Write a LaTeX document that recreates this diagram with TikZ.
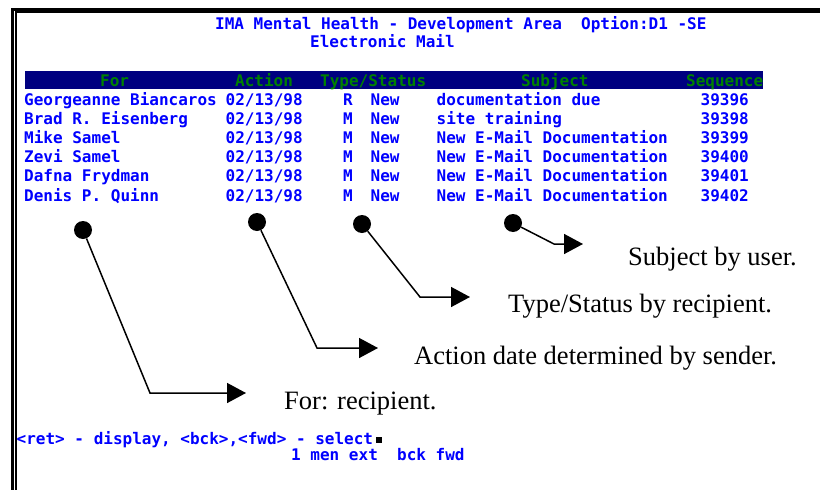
\documentclass[tikz,border=0pt]{standalone}
\usepackage{fontspec}
\setmainfont{Liberation Serif}
\newfontfamily\scrfont{DejaVu Sans Mono}
\usetikzlibrary{arrows.meta}
\definecolor{scrblue}{RGB}{0,0,255}
\definecolor{barnavy}{RGB}{0,0,128}
\definecolor{bargreen}{RGB}{0,128,0}

\begin{document}
\begin{tikzpicture}[x=1pt,y=-1pt,
  scr/.style={inner sep=0pt, anchor=base west, text=scrblue,
    font=\scrfont\bfseries\fontsize{16}{16}\selectfont},
  colhead/.style={scr, text=bargreen},
  callout/.style={inner sep=0pt, anchor=base west,
    font=\fontsize{26.5}{26.5}\selectfont},
  pin/.style={circle, fill=black, minimum size=18pt, inner sep=0pt},
  lead/.style={line width=1.5pt, -{Triangle[length=19pt,width=20pt]}}
]
\useasboundingbox (0,0) rectangle (820,490);
\fill[white] (0,0) rectangle (820,490);

% double rule along the top and left edges
\draw[line width=3pt] (820,9) -- (12.5,9) -- (12.5,490);
\draw[line width=1.5pt] (820,12.2) -- (16,12.2) -- (16,490);

% screen title
\node[scr] (title1) at (215,29) {IMA Mental Health - Development Area~~Option:D1 -SE};
\node[scr] (title2) at (310,47.5) {Electronic Mail};

% column header bar
\node[fill=barnavy, anchor=north west, inner sep=0pt,
      minimum width=738pt, minimum height=18.5pt] (bar) at (25,70.5) {};
\node[colhead] (hfor)  at (100,86) {For};
\node[colhead] (hact)  at (235,86) {Action};
\node[colhead] (htype) at (320,86) {Type/Status};
\node[colhead] (hsubj) at (521,86) {Subject};
\node[colhead] (hseq)  at (686,86) {Sequence};

% message list
\foreach \nm/\ty/\sb/\sq [count=\i] in {
    Georgeanne Biancaros/R/documentation due/39396,
    Brad R. Eisenberg/M/site training/39398,
    Mike Samel/M/New E-Mail Documentation/39399,
    Zevi Samel/M/New E-Mail Documentation/39400,
    Dafna Frydman/M/New E-Mail Documentation/39401,
    Denis P. Quinn/M/New E-Mail Documentation/39402} {
  \pgfmathsetmacro{\yy}{105+(\i-1)*19.2}
  \node[scr] (name\i) at (24,\yy)    {\nm};
  \node[scr] (date\i) at (225.5,\yy) {02/13/98};
  \node[scr] (type\i) at (343,\yy)   {\ty};
  \node[scr] (stat\i) at (370.5,\yy) {New};
  \node[scr] (subj\i) at (436.5,\yy) {\sb};
  \node[scr] (seq\i)  at (700.5,\yy) {\sq};
}

% key help lines
\node[scr] (keys) at (16.5,444) {<ret> - display, <bck>,<fwd> - select};
\node[fill=black, inner sep=0pt, minimum size=6.5pt, anchor=south west]
  (cursor) at ([xshift=2pt,yshift=0.5pt]keys.base east) {};
\node[scr] (menu) at (291,460) {1 men ext~~bck fwd};

% callouts
\node[pin] (p1) at (83,230) {};
\node[pin] (p2) at (257,222) {};
\node[pin] (p3) at (362,224) {};
\node[pin] (p4) at (513,223) {};

\coordinate (k1) at (150,393);  \coordinate (t1) at (246,393);
\coordinate (k2) at (317,348);  \coordinate (t2) at (378,348);
\coordinate (k3) at (420,297);  \coordinate (t3) at (470,297);
\coordinate (k4) at (554,244);  \coordinate (t4) at (583,244);

\draw[lead] (p1) -- (k1) -- (t1);
\draw[lead] (p2) -- (k2) -- (t2);
\draw[lead] (p3) -- (k3) -- (t3);
\draw[lead] (p4) -- (k4) -- (t4);

\node[callout] (l1) at (284,409) {For: recipient.};
\node[callout] (l2) at (414,364) {Action date determined by sender.};
\node[callout] (l3) at (508,312) {Type/Status by recipient.};
\node[callout] (l4) at (628,265) {Subject by user.};
\end{tikzpicture}
\end{document}
